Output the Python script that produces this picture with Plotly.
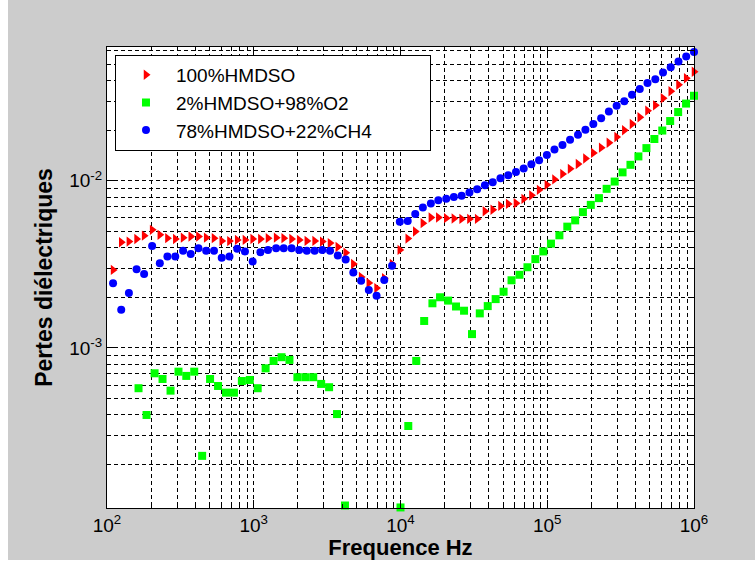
import plotly.graph_objects as go

# ---- data ----
freq_rb = [110, 125, 141, 159, 179, 203, 229, 258, 292, 330,
           372, 420, 474, 536, 605, 683, 771, 871, 983, 1110,
           1250, 1420, 1600, 1810, 2040, 2300, 2600, 2930, 3310, 3740,
           4230, 4770, 5390, 6080, 6870, 7750, 8760, 9890, 11200, 12600,
           14200, 16100, 18100, 20500, 23100, 26100, 29500, 33300, 37600, 42500,
           48000, 54200, 61200, 69100, 78000, 88000, 99400, 112000, 127000, 143000,
           162000, 182000, 206000, 233000, 263000, 297000, 335000, 378000, 427000, 482000,
           545000, 615000, 694000, 784000, 885000, 1000000]

loss_100hmdso = [2.93e-3, 4.29e-3, 4.33e-3, 4.49e-3, 4.70e-3, 5.09e-3, 4.75e-3, 4.54e-3, 4.49e-3, 4.57e-3,
                 4.64e-3, 4.64e-3, 4.57e-3, 4.54e-3, 4.37e-3, 4.36e-3, 4.43e-3, 4.43e-3, 4.49e-3, 4.49e-3,
                 4.54e-3, 4.57e-3, 4.54e-3, 4.49e-3, 4.43e-3, 4.37e-3, 4.37e-3, 4.33e-3, 4.24e-3, 4.02e-3,
                 3.71e-3, 3.18e-3, 2.66e-3, 2.45e-3, 2.28e-3, 2.61e-3, 3.18e-3, 3.86e-3, 4.51e-3, 4.97e-3,
                 5.58e-3, 6.04e-3, 6.04e-3, 5.98e-3, 5.95e-3, 5.92e-3, 5.92e-3, 5.92e-3, 6.57e-3, 6.71e-3,
                 7.08e-3, 7.28e-3, 7.35e-3, 7.80e-3, 8.19e-3, 8.83e-3, 9.46e-3, 1.02e-2, 1.10e-2, 1.18e-2,
                 1.26e-2, 1.36e-2, 1.47e-2, 1.58e-2, 1.69e-2, 1.83e-2, 2.01e-2, 2.19e-2, 2.40e-2, 2.63e-2,
                 2.83e-2, 3.12e-2, 3.44e-2, 3.76e-2, 4.11e-2, 4.50e-2]

loss_78hmdso = [2.44e-3, 1.69e-3, 2.13e-3, 2.96e-3, 2.77e-3, 4.07e-3, 3.21e-3, 3.52e-3, 3.52e-3, 3.81e-3,
                3.65e-3, 3.95e-3, 3.81e-3, 3.81e-3, 3.46e-3, 3.53e-3, 3.92e-3, 3.78e-3, 3.29e-3, 3.74e-3,
                3.85e-3, 3.95e-3, 3.95e-3, 3.95e-3, 3.86e-3, 3.81e-3, 3.81e-3, 3.86e-3, 3.81e-3, 3.58e-3,
                3.38e-3, 2.83e-3, 2.52e-3, 2.22e-3, 2.05e-3, 2.55e-3, 3.10e-3, 5.70e-3, 5.74e-3, 6.34e-3,
                6.92e-3, 7.33e-3, 7.66e-3, 7.82e-3, 8.00e-3, 8.15e-3, 8.53e-3, 8.90e-3, 9.40e-3, 9.82e-3,
                1.035e-2, 1.08e-2, 1.13e-2, 1.185e-2, 1.255e-2, 1.33e-2, 1.43e-2, 1.54e-2, 1.64e-2, 1.76e-2,
                1.89e-2, 2.02e-2, 2.19e-2, 2.37e-2, 2.60e-2, 2.81e-2, 2.99e-2, 3.27e-2, 3.54e-2, 3.85e-2,
                4.06e-2, 4.45e-2, 4.79e-2, 5.18e-2, 5.55e-2, 5.90e-2]

freq_g = [164, 186, 211, 239, 271, 307, 347, 393, 445, 504,
          571, 647, 733, 830, 940, 1064, 1205, 1365, 1546, 1751,
          1983, 2246, 2543, 2880, 3262, 3694, 4184,
          10000, 11300, 12800, 14500, 16500, 18600, 21100, 23900, 27100, 30700,
          34700, 39300, 44500, 50400, 57100, 64700, 73300, 83000, 94000, 106000,
          121000, 137000, 155000, 175000, 198000, 225000, 254000, 288000, 326000, 369000,
          418000, 474000, 537000, 608000, 688000, 780000, 883000, 1000000]

loss_2hmdso = [5.74e-4, 3.97e-4, 7.05e-4, 6.52e-4, 5.55e-4, 7.21e-4, 6.80e-4, 7.21e-4, 2.26e-4, 6.52e-4,
               5.92e-4, 5.40e-4, 5.40e-4, 6.34e-4, 6.43e-4, 5.74e-4, 7.55e-4, 8.36e-4, 8.80e-4, 8.48e-4,
               6.68e-4, 6.68e-4, 6.68e-4, 6.09e-4, 5.82e-4, 4.02e-4, 1.14e-4,
               1.11e-4, 3.41e-4, 8.36e-4, 1.45e-3, 1.85e-3, 2.01e-3, 1.92e-3, 1.77e-3, 1.67e-3, 1.21e-3,
               1.61e-3, 1.78e-3, 1.96e-3, 2.17e-3, 2.54e-3, 2.74e-3, 3.04e-3, 3.40e-3, 3.78e-3, 4.21e-3,
               4.72e-3, 5.32e-3, 5.80e-3, 6.50e-3, 7.18e-3, 7.88e-3, 8.96e-3, 9.90e-3, 1.124e-2, 1.247e-2,
               1.40e-2, 1.57e-2, 1.78e-2, 2.00e-2, 2.28e-2, 2.58e-2, 2.90e-2, 3.23e-2]

series_names = ["100%HMDSO", "2%HMDSO+98%O2", "78%HMDSO+22%CH4"]

x_major = [1e2, 1e3, 1e4, 1e5, 1e6]
x_major_text = ["10<sup>2</sup>", "10<sup>3</sup>", "10<sup>4</sup>", "10<sup>5</sup>", "10<sup>6</sup>"]
x_minor = [m * 10 ** e for e in range(2, 6) for m in range(2, 10)]
y_major = [1e-3, 1e-2]
y_major_text = ["10<sup>-3</sup>", "10<sup>-2</sup>"]
y_minor = [m * 10 ** e for e in range(-4, -1) for m in range(2, 10)]

# ---- figure ----
fig = go.Figure()
fig.add_trace(go.Scatter(x=freq_rb, y=loss_100hmdso, mode="markers", name=series_names[0],
                         marker=dict(symbol="triangle-right", size=9, color="#ff0000"),
                         cliponaxis=False))
fig.add_trace(go.Scatter(x=freq_g, y=loss_2hmdso, mode="markers", name=series_names[1],
                         marker=dict(symbol="square", size=8, color="#00ff00"),
                         cliponaxis=False))
fig.add_trace(go.Scatter(x=freq_rb, y=loss_78hmdso, mode="markers",
                         name=series_names[2] + "\u00a0" * 10,
                         marker=dict(symbol="circle", size=8, color="#0000ff"),
                         cliponaxis=False))

grid_style = dict(showgrid=True, gridcolor="black", gridwidth=1, griddash="4px,3px")
axis_common = dict(type="log", ticks="inside", ticklen=8, tickwidth=1, tickcolor="black",
                   showline=True, linecolor="black", linewidth=1, mirror="allticks",
                   tickfont=dict(size=19, color="black"), **grid_style)

fig.update_xaxes(range=[2, 6], tickmode="array", tickvals=x_major, ticktext=x_major_text,
                 minor=dict(tickmode="array", tickvals=x_minor, ticks="inside", ticklen=4,
                            tickcolor="black", **grid_style),
                 title=dict(text="<b>Frequence Hz</b>", font=dict(size=22), standoff=5),
                 **axis_common)
fig.update_yaxes(range=[-3.958, -1.199], tickmode="array", tickvals=y_major, ticktext=y_major_text,
                 minor=dict(tickmode="array", tickvals=y_minor, ticks="inside", ticklen=4,
                            tickcolor="black", **grid_style),
                 title=dict(text="<b>Pertes diélectriques</b>", font=dict(size=23), standoff=10),
                 **axis_common)

fig.update_layout(
    width=747, height=560,
    margin=dict(l=99, r=61, t=47, b=52, autoexpand=False),
    paper_bgcolor="#cccccc", plot_bgcolor="white",
    font=dict(family="Arial, Liberation Sans, sans-serif", color="black"),
    showlegend=True,
    legend=dict(x=0.0136, y=0.983, xanchor="left", yanchor="top",
                bgcolor="white", bordercolor="black", borderwidth=1,
                font=dict(size=19), itemwidth=50, tracegroupgap=0),
)

fig.write_html(
    "out.html",
    post_script="document.body.style.margin='0';document.body.style.padding='0 0 0 8px';"
                "document.body.style.background='#ffffff';",
)
